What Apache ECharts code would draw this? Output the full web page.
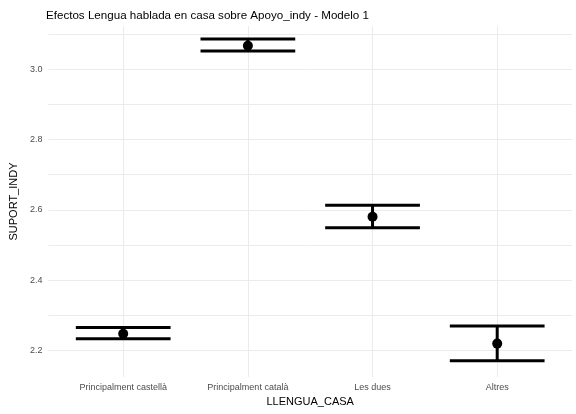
<!DOCTYPE html>
<html>
<head>
<meta charset="utf-8">
<script src="https://cdn.jsdelivr.net/npm/echarts@6/dist/echarts.min.js"></script>
<style>html,body{margin:0;padding:0;background:#fff;}#c{width:576px;height:414px;}</style>
</head>
<body>
<div id="c"></div>
<script>
const categories = ['Principalment castellà', 'Principalment català', 'Les dues', 'Altres'];
const estimates = [2.247, 3.067, 2.580, 2.219];
const lower = [2.233, 3.052, 2.549, 2.170];
const upper = [2.265, 3.086, 2.613, 2.269];
const yTicks = [2.2, 2.4, 2.6, 2.8, 3.0];
const yGrid = [2.2, 2.3, 2.4, 2.5, 2.6, 2.7, 2.8, 2.9, 3.0, 3.1];
const xPositions = [1, 2, 3, 4];

const chart = echarts.init(document.getElementById('c'), null, {renderer: 'canvas'});
const font = 'Liberation Sans, Arial, sans-serif';
const capHalf = 0.38;

chart.setOption({
  animation: false,
  backgroundColor: '#fff',
  title: {
    text: 'Efectos Lengua hablada en casa sobre Apoyo_indy - Modelo 1',
    left: 41, top: 5,
    textStyle: {fontFamily: font, fontSize: 11.6, fontWeight: 'normal', color: '#000'}
  },
  grid: {left: 47, right: 4, top: 26, bottom: 37},
  xAxis: {
    type: 'value', min: 0.4, max: 4.6,
    name: 'LLENGUA_CASA', nameLocation: 'middle', nameGap: 18,
    nameTextStyle: {fontFamily: font, fontSize: 11, color: '#000'},
    axisLine: {show: false},
    axisTick: {show: false, customValues: xPositions},
    axisLabel: {customValues: xPositions, fontFamily: font, fontSize: 9, color: '#4d4d4d', margin: 6,
      formatter: v => categories[Math.round(v) - 1] || ''},
    splitLine: {show: true, lineStyle: {color: '#ebebeb', width: 1}}
  },
  yAxis: {
    type: 'value', min: 2.124, max: 3.123,
    name: 'SUPORT_INDY', nameLocation: 'middle', nameGap: 21, nameRotate: 90,
    nameTextStyle: {fontFamily: font, fontSize: 11, color: '#000'},
    axisLine: {show: false},
    axisTick: {show: false, customValues: yGrid},
    axisLabel: {customValues: yTicks, fontFamily: font, fontSize: 9, color: '#4d4d4d', margin: 6,
      formatter: v => v.toFixed(1)},
    splitLine: {show: true, lineStyle: {color: '#ebebeb', width: 1}}
  },
  series: [
    {
      type: 'custom',
      data: xPositions.map((x, i) => [x, lower[i], upper[i]]),
      encode: {x: 0, y: [1, 2]},
      renderItem: function (params, api) {
        const x = api.value(0), lo = api.value(1), hi = api.value(2);
        const pLoL = api.coord([x - capHalf, lo]);
        const pLoR = api.coord([x + capHalf, lo]);
        const pHiL = api.coord([x - capHalf, hi]);
        const pHiR = api.coord([x + capHalf, hi]);
        const pLo = api.coord([x, lo]);
        const pHi = api.coord([x, hi]);
        const style = {stroke: '#000', lineWidth: 3};
        return {
          type: 'group',
          children: [
            {type: 'line', shape: {x1: pHi[0], y1: pHi[1], x2: pLo[0], y2: pLo[1]}, style: style},
            {type: 'line', shape: {x1: pLoL[0], y1: pLoL[1], x2: pLoR[0], y2: pLoR[1]}, style: style},
            {type: 'line', shape: {x1: pHiL[0], y1: pHiL[1], x2: pHiR[0], y2: pHiR[1]}, style: style}
          ]
        };
      },
      z: 2
    },
    {
      type: 'scatter',
      data: xPositions.map((x, i) => [x, estimates[i]]),
      symbol: 'circle', symbolSize: 10,
      itemStyle: {color: '#000', opacity: 1},
      z: 3
    }
  ]
});
</script>
</body>
</html>
